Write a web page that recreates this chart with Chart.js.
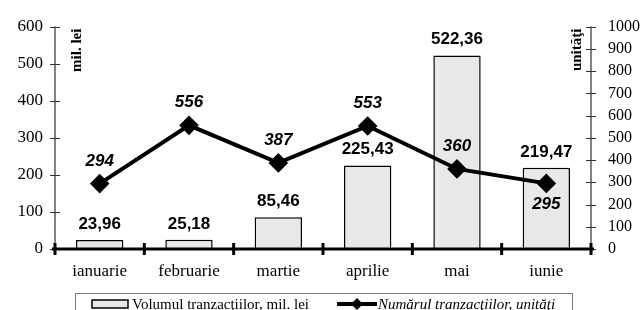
<!DOCTYPE html>
<html>
<head>
<meta charset="utf-8">
<script src="https://cdn.jsdelivr.net/npm/chart.js@4"></script>
<style>
  html, body { margin: 0; padding: 0; background: #fff; }
  #wrap { width: 644px; height: 310px; position: relative; }
</style>
</head>
<body>
<div id="wrap"><canvas id="chart" width="644" height="310"></canvas></div>
<script>
const months = ["ianuarie", "februarie", "martie", "aprilie", "mai", "iunie"];
const volume = [23.96, 25.18, 85.46, 225.43, 522.36, 219.47];
const count = [294, 556, 387, 553, 360, 295];
const volumeLabel = "Volumul tranzacţiilor, mil. lei";
const countLabel = "Numărul tranzacţiilor, unităţi";
const leftTitle = "mil. lei";
const rightTitle = "unităţi";

const SERIF = "'Liberation Serif', 'Times New Roman', serif";
const SANS = "'Liberation Sans', Arial, sans-serif";

function fmt(v) {
  return v.toFixed(2).replace(".", ",");
}

// axes, separators, value labels, titles and legend
const decor = {
  id: "decor",
  afterDatasetsDraw(chart) {
    const ctx = chart.ctx;
    const area = chart.chartArea;
    const y = chart.scales.y;
    const y1 = chart.scales.y1;

    ctx.save();

    // left axis
    ctx.strokeStyle = "#333";
    ctx.lineWidth = 1.2;
    ctx.beginPath();
    ctx.moveTo(area.left, area.top);
    ctx.lineTo(area.left, area.bottom);
    y.ticks.forEach(t => {
      const py = Math.round(y.getPixelForValue(t.value)) + 0.5;
      ctx.moveTo(area.left - 5, py);
      ctx.lineTo(area.left + 5, py);
    });
    // right axis
    ctx.moveTo(area.right, area.top);
    ctx.lineTo(area.right, area.bottom);
    y1.ticks.forEach(t => {
      const py = Math.round(y1.getPixelForValue(t.value)) + 0.5;
      ctx.moveTo(area.right - 5, py);
      ctx.lineTo(area.right + 5, py);
    });
    ctx.stroke();

    // x axis
    ctx.strokeStyle = "#000";
    ctx.lineWidth = 3;
    ctx.beginPath();
    ctx.moveTo(area.left - 3, area.bottom);
    ctx.lineTo(area.right + 3, area.bottom);
    ctx.stroke();
    const step = (area.right - area.left) / months.length;
    ctx.beginPath();
    for (let i = 0; i <= months.length; i++) {
      const px = area.left + i * step;
      ctx.moveTo(px, area.bottom - 6);
      ctx.lineTo(px, area.bottom + 6);
    }
    ctx.stroke();

    // bar labels
    ctx.fillStyle = "#000";
    ctx.textAlign = "center";
    ctx.textBaseline = "alphabetic";
    ctx.font = "bold 17px " + SANS;
    chart.getDatasetMeta(1).data.forEach((bar, i) => {
      ctx.fillText(fmt(volume[i]), bar.x, bar.y - 11);
    });

    // line labels
    ctx.font = "italic bold 17px " + SANS;
    chart.getDatasetMeta(0).data.forEach((pt, i) => {
      if (i === count.length - 1) {
        ctx.fillText(String(count[i]), pt.x, pt.y + 26);
      } else {
        ctx.fillText(String(count[i]), pt.x, pt.y - 18);
      }
    });

    // axis titles
    ctx.font = "bold 15px " + SERIF;
    ctx.textAlign = "right";
    ctx.textBaseline = "middle";
    ctx.save();
    ctx.translate(area.left + 22, area.top + 2);
    ctx.rotate(-Math.PI / 2);
    ctx.fillText(leftTitle, 0, 0);
    ctx.restore();
    ctx.save();
    ctx.translate(area.right - 14, area.top + 2);
    ctx.rotate(-Math.PI / 2);
    ctx.fillText(rightTitle, 0, 0);
    ctx.restore();

    // legend
    ctx.strokeStyle = "#777";
    ctx.lineWidth = 1;
    ctx.strokeRect(75.5, 293.5, 497, 30);
    ctx.fillStyle = "#e8e8e8";
    ctx.fillRect(92, 300, 36, 8);
    ctx.strokeStyle = "#000";
    ctx.lineWidth = 1.5;
    ctx.strokeRect(92, 300, 36, 8);
    ctx.fillStyle = "#000";
    ctx.textAlign = "left";
    ctx.textBaseline = "alphabetic";
    ctx.font = "15px " + SERIF;
    ctx.fillText(volumeLabel, 132, 309);

    ctx.lineWidth = 4;
    ctx.beginPath();
    ctx.moveTo(337, 304);
    ctx.lineTo(377, 304);
    ctx.stroke();
    ctx.beginPath();
    ctx.moveTo(357, 298);
    ctx.lineTo(363, 304);
    ctx.lineTo(357, 310);
    ctx.lineTo(351, 304);
    ctx.closePath();
    ctx.fill();
    ctx.font = "italic 15px " + SERIF;
    ctx.fillText(countLabel, 378, 309);

    ctx.restore();
  }
};

new Chart(document.getElementById("chart"), {
  type: "bar",
  data: {
    labels: months,
    datasets: [
      {
        type: "line",
        label: countLabel,
        data: count,
        yAxisID: "y1",
        borderColor: "#000",
        backgroundColor: "#000",
        borderWidth: 4,
        pointStyle: "rectRot",
        pointRadius: 7,
        pointBackgroundColor: "#000",
        tension: 0,
        order: 1
      },
      {
        type: "bar",
        label: volumeLabel,
        data: volume,
        yAxisID: "y",
        backgroundColor: "#e8e8e8",
        borderColor: "#000",
        borderWidth: { top: 1.5, left: 1.5, right: 1.5, bottom: 0 },
        borderSkipped: false,
        categoryPercentage: 1,
        barPercentage: 0.53,
        order: 2
      }
    ]
  },
  options: {
    responsive: false,
    animation: false,
    layout: { padding: { top: 18, left: 0, right: 0, bottom: 0 } },
    plugins: {
      legend: { display: false },
      tooltip: { enabled: false }
    },
    scales: {
      x: {
        offset: true,
        grid: { display: false, drawTicks: false },
        border: { display: false },
        ticks: { color: "#000", font: { family: SERIF, size: 17 }, padding: 12 },
        afterFit(s) { s.height = 61; }
      },
      y: {
        position: "left",
        min: 0,
        max: 600,
        ticks: { stepSize: 100, color: "#000", font: { family: SERIF, size: 17 }, padding: 12, callback: v => String(v) },
        grid: { display: false, drawTicks: false },
        border: { display: false },
        afterFit(s) { s.width = 55; }
      },
      y1: {
        position: "right",
        min: 0,
        max: 1000,
        ticks: { stepSize: 100, color: "#000", font: { family: SERIF, size: 16 }, padding: 17, callback: v => String(v) },
        grid: { display: false, drawTicks: false },
        border: { display: false },
        afterFit(s) { s.width = 53; }
      }
    }
  },
  plugins: [decor]
});
</script>
</body>
</html>
